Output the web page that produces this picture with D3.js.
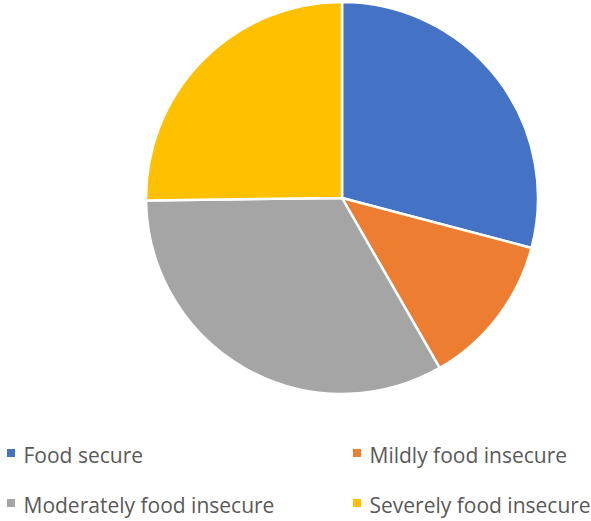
<!DOCTYPE html>
<html>
<head>
<meta charset="utf-8">
<script src="https://cdn.jsdelivr.net/npm/d3@7"></script>
<style>
  html, body { margin: 0; padding: 0; background: #ffffff; }
  svg { display: block; }
</style>
</head>
<body>
<svg id="chart" width="591" height="521"></svg>
<script>
// Share of households by food security status (%)
const categories = ["Food secure", "Mildly food insecure", "Moderately food insecure", "Severely food insecure"];
const shares = [29.1, 12.6, 33.1, 25.2];
const colors = ["#4472C4", "#ED7D31", "#A5A5A5", "#FFC000"];

const svg = d3.select("#chart");
const cx = 342, cy = 198, radius = 196;

const data = categories.map((c, i) => ({ name: c, value: shares[i], color: colors[i] }));

const pie = d3.pie().value(d => d.value).sort(null);
const arc = d3.arc().innerRadius(0).outerRadius(radius);

svg.append("g")
  .attr("transform", `translate(${cx},${cy})`)
  .selectAll("path")
  .data(pie(data))
  .join("path")
  .attr("d", arc)
  .attr("fill", d => d.data.color)
  .attr("stroke", "#ffffff")
  .attr("stroke-width", 2.5)
  .attr("stroke-linejoin", "round");

// Legend: two columns, two rows
const legendPos = [
  { x: 7, y: 453 }, { x: 353, y: 453 },
  { x: 7, y: 503 }, { x: 353, y: 503 }
];

const legend = svg.append("g")
  .selectAll("g")
  .data(data)
  .join("g")
  .attr("transform", (d, i) => `translate(${legendPos[i].x},${legendPos[i].y})`);

legend.append("rect")
  .attr("x", 0).attr("y", -4)
  .attr("width", 8).attr("height", 8)
  .attr("fill", d => d.color);

legend.append("text")
  .attr("x", 16.5).attr("y", 10)
  .attr("font-family", "'Open Sans', sans-serif")
  .attr("font-size", 21)
  .attr("fill", "#595959")
  .text(d => d.name);
</script>
</body>
</html>
